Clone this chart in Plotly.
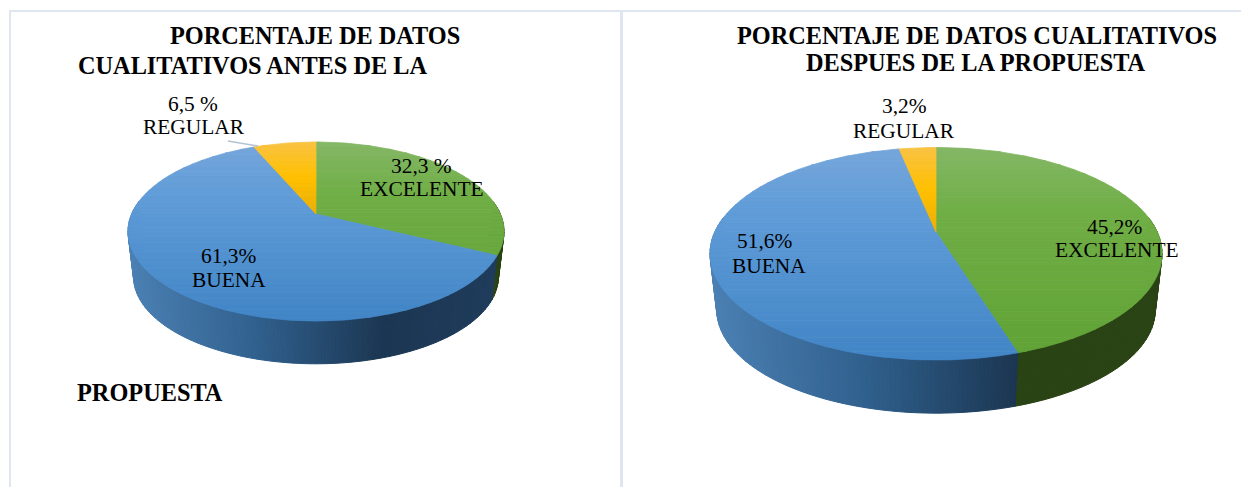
import math
import plotly.graph_objects as go

# ---- data ----
categories = ["EXCELENTE", "BUENA", "REGULAR"]
values_before = [32.3, 61.3, 6.5]
values_after = [45.2, 51.6, 3.2]
labels_before = ["32,3 %", "61,3%", "6,5 %"]
labels_after = ["45,2%", "51,6%", "3,2%"]
title_before = ["PORCENTAJE DE DATOS", "CUALITATIVOS ANTES DE LA", "PROPUESTA"]
title_after = ["PORCENTAJE DE DATOS CUALITATIVOS", "DESPUES DE LA PROPUESTA"]

# ---- styling / geometry (pixel space of the page) ----
W, H = 1241, 487
SERIF = "Liberation Serif"
TOP_STOPS = {
    "EXCELENTE": [(0, "#84b766"), (.3, "#70ae46"), (1, "#60a235")],
    "BUENA": [(0, "#76a6da"), (.3, "#609cd8"), (1, "#4185c6")],
    "REGULAR": [(0, "#f9c243"), (.2, "#ffc000"), (.42, "#e6ad08")],
}
SIDE_STOPS = {
    "EXCELENTE": [(0, "#2a4315"), (1, "#2a4315")],
    "BUENA": [(0, "#4b80b3"), (.35, "#2f5f8c"), (.68, "#1b3652"), (1, "#1f3c5c")],
    "REGULAR": [(0, "#a07a00"), (1, "#a07a00")],
}


def hex2rgb(c):
    return [int(c[i:i + 2], 16) for i in (1, 3, 5)]


def ramp(stops, f):
    if f <= stops[0][0]:
        return stops[0][1]
    for (a, ca), (b, cb) in zip(stops, stops[1:]):
        if f <= b:
            t = (f - a) / (b - a)
            r = [round(p + (q - p) * t) for p, q in zip(hex2rgb(ca), hex2rgb(cb))]
            return "#%02x%02x%02x" % tuple(r)
    return stops[-1][1]


def clip(poly, y_lim, keep_below):
    out = []
    n = len(poly)
    for i in range(n):
        p, q = poly[i], poly[(i + 1) % n]
        pin = (p[1] >= y_lim) if keep_below else (p[1] <= y_lim)
        qin = (q[1] >= y_lim) if keep_below else (q[1] <= y_lim)
        if pin:
            out.append(p)
        if pin != qin:
            t = (y_lim - p[1]) / (q[1] - p[1])
            out.append((p[0] + (q[0] - p[0]) * t, y_lim))
    return out


def add_polys(fig, color, polys, lw=0.8):
    xs, ys = [], []
    for poly in polys:
        xs += [p[0] for p in poly] + [poly[0][0], None]
        ys += [p[1] for p in poly] + [poly[0][1], None]
    fig.add_trace(go.Scatter(x=xs, y=ys, mode="lines", fill="toself", fillcolor=color,
                             line=dict(color=color, width=lw), hoverinfo="skip",
                             showlegend=False))


def pie3d(fig, values, cx, apex_y, top_y, bottom_y, half_w, depth, shrink=0.97):
    up = apex_y - top_y
    down = bottom_y - apex_y
    k = (down - up) / (down + up)
    b = up * (1 + k)
    a = half_w * math.sqrt(1 - k * k)

    def rim(theta):
        u, v = math.sin(theta), -math.cos(theta)
        den = 1 - k * v
        return cx + a * u / den, apex_y + b * v / den, v

    def low(x, y):
        return cx + (x - cx) * shrink, apex_y + (y - apex_y) * shrink + depth

    total = sum(values)
    spans = []
    start = 0.0
    for name, val in zip(categories, values):
        end = start + val / total * 2 * math.pi
        spans.append((name, start, end))
        start = end

    # side wall: contiguous runs of one colour, kept short so each strip stays simple
    x_min, x_max = cx - half_w, cx + half_w
    for name, s, e in spans:
        n = max(4, int((e - s) / math.radians(0.25)))
        run, run_c = [], None

        def flush():
            if len(run) >= 2:
                add_polys(fig, run_c, [run + [low(*p) for p in reversed(run)]], lw=1)

        for i in range(n + 1):
            x, y, v = rim(s + (e - s) * i / n)
            if v < -0.15:
                if run:
                    flush()
                run, run_c = [], None
                continue
            f = (x - x_min) / (x_max - x_min)
            c = ramp(SIDE_STOPS[name], round(f * 110) / 110)
            if (c != run_c or len(run) >= 8) and run:
                run.append((x, y))
                flush()
                run = [(x, y)]
            elif not run:
                run = [(x, y)]
            else:
                run.append((x, y))
            run_c = c
        if run:
            flush()

    # top surface in vertical gradient bands
    bands = 48
    top = {}
    for name, s, e in spans:
        n = max(4, int((e - s) / math.radians(1)))
        poly = [(cx, apex_y)] + [rim(s + (e - s) * i / n)[:2] for i in range(n + 1)]
        for j in range(bands):
            y0 = top_y + (bottom_y - top_y) * j / bands
            y1 = top_y + (bottom_y - top_y) * (j + 1) / bands
            piece = clip(poly, y0, True)
            if piece:
                piece = clip(piece, y1, False)
            if len(piece) >= 3:
                c = ramp(TOP_STOPS[name], (j + .5) / bands)
                top.setdefault(c, []).append(piece)
    for c, polys in top.items():
        add_polys(fig, c, polys)


fig = go.Figure()
pie3d(fig, values_before, 316, 214, 142, 321, 188, 46)
pie3d(fig, values_after, 936, 232, 147.5, 360, 226, 57)

# leader line of the small slice
fig.add_trace(go.Scatter(x=[228, 258], y=[141, 146], mode="lines",
                         line=dict(color="#b4c2d4", width=1.4), hoverinfo="skip", showlegend=False))


def note(text, x, y, size, bold=False, anchor="center"):
    fig.add_annotation(x=x, y=y, text=f"<b>{text}</b>" if bold else text, showarrow=False,
                       xanchor=anchor, yanchor="middle", xref="x", yref="y",
                       font=dict(family=SERIF, size=size, color="#000000"))


TS, LS = 24.3, 21.4
note(title_before[0], 315, 35, TS, True)
note(title_before[1], 76, 65, TS, True, "left")
note(title_before[2], 75, 392, TS, True, "left")
note(title_after[0], 977, 35, TS, True)
note(title_after[1], 976, 62, TS, True)

pos_before = [((421, 166), (422, 189)), ((228, 256), (229, 280)), ((193, 104), (194, 127))]
pos_after = [((1114, 227), (1117, 250)), ((764, 241), (769, 266)), ((904, 106), (904, 131))]
for labels, pos in ((labels_before, pos_before), (labels_after, pos_after)):
    for cat, lab, (p1, p2) in zip(categories, labels, pos):
        note(lab, p1[0], p1[1], LS)
        note(cat, p2[0], p2[1], LS)

frame = "#e0e6ef"
shapes = [
    dict(type="rect", x0=9, x1=W, y0=10, y1=12, line_width=0, fillcolor=frame, layer="below"),
    dict(type="rect", x0=9, x1=11, y0=10, y1=H, line_width=0, fillcolor=frame, layer="below"),
    dict(type="rect", x0=620, x1=623, y0=10, y1=H, line_width=0, fillcolor=frame, layer="below"),
]

fig.update_layout(
    width=W, height=H, margin=dict(l=0, r=0, t=0, b=0), autosize=False,
    paper_bgcolor="#ffffff", plot_bgcolor="#ffffff", showlegend=False, shapes=shapes,
    xaxis=dict(range=[0, W], visible=False, fixedrange=True),
    yaxis=dict(range=[H, 0], visible=False, fixedrange=True),
)
fig.write_html("out.html", config={"displayModeBar": False},
               post_script="document.body.style.margin='0';")
